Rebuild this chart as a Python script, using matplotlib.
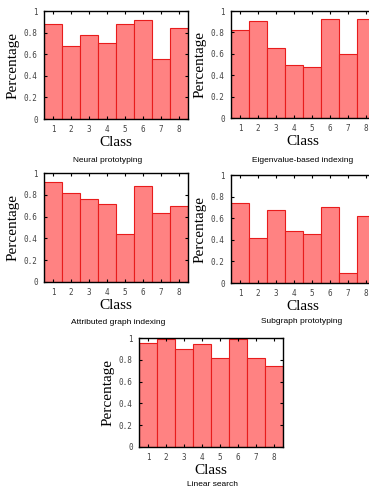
import matplotlib
matplotlib.use("Agg")
from matplotlib import pyplot as plt

classes = [1, 2, 3, 4, 5, 6, 7, 8]

neural = [0.883, 0.676, 0.781, 0.704, 0.883, 0.917, 0.556, 0.843]
eigen = [0.820, 0.907, 0.659, 0.495, 0.480, 0.923, 0.601, 0.923]
attributed = [0.920, 0.820, 0.761, 0.716, 0.440, 0.878, 0.633, 0.697]
subgraph = [0.738, 0.418, 0.677, 0.480, 0.452, 0.700, 0.095, 0.620]
linear = [0.957, 0.988, 0.902, 0.942, 0.819, 0.988, 0.819, 0.739]

titles = ["Neural prototyping", "Eigenvalue-based indexing",
          "Attributed graph indexing", "Subgraph prototyping", "Linear search"]
y_ticks = [0, 0.2, 0.4, 0.6, 0.8, 1]
y_tick_labels = ["0", "0.2", "0.4", "0.6", "0.8", "1"]

fig = plt.figure(figsize=(3.69, 4.90), dpi=100)

# axes boxes in figure fraction, plus caption position (x, y)
panels = [
    (neural, [0.1192, 0.7571, 0.390, 0.2204], (0.292, 0.673)),
    (eigen, [0.626, 0.759, 0.390, 0.2184], (0.820, 0.673)),
    (attributed, [0.1192, 0.4245, 0.390, 0.2224], (0.319, 0.341)),
    (subgraph, [0.626, 0.4224, 0.390, 0.2204], (0.818, 0.343)),
    (linear, [0.3767, 0.0878, 0.390, 0.2224], (0.577, 0.011)),
]

for (vals, box, cap), title in zip(panels, titles):
    ax = fig.add_axes(box)
    ax.bar(classes, vals, width=1.0, color="#ff8282", edgecolor="#e81c1c", linewidth=0.8)
    ax.set_xlim(0.5, 8.5)
    ax.set_ylim(0, 1)
    ax.set_xticks(classes)
    ax.set_yticks(y_ticks)
    ax.set_yticklabels(y_tick_labels)
    ax.tick_params(direction="in", top=True, right=True, length=2.5, width=0.8,
                   labelsize=5.5, labelcolor="#444444", pad=4.5)
    for lab in ax.get_xticklabels() + ax.get_yticklabels():
        lab.set_family("DejaVu Sans Mono")
    for s in ax.spines.values():
        s.set_linewidth(1.0)
    ax.set_ylabel("Percentage", family="Liberation Serif", fontsize=11, labelpad=3)
    ax.set_xlabel("Class", family="Liberation Serif", fontsize=11, labelpad=1)
    fig.text(cap[0], cap[1], title, ha="center", va="center",
             family="Liberation Sans", fontsize=6)

fig.savefig("out.png", dpi=100)
